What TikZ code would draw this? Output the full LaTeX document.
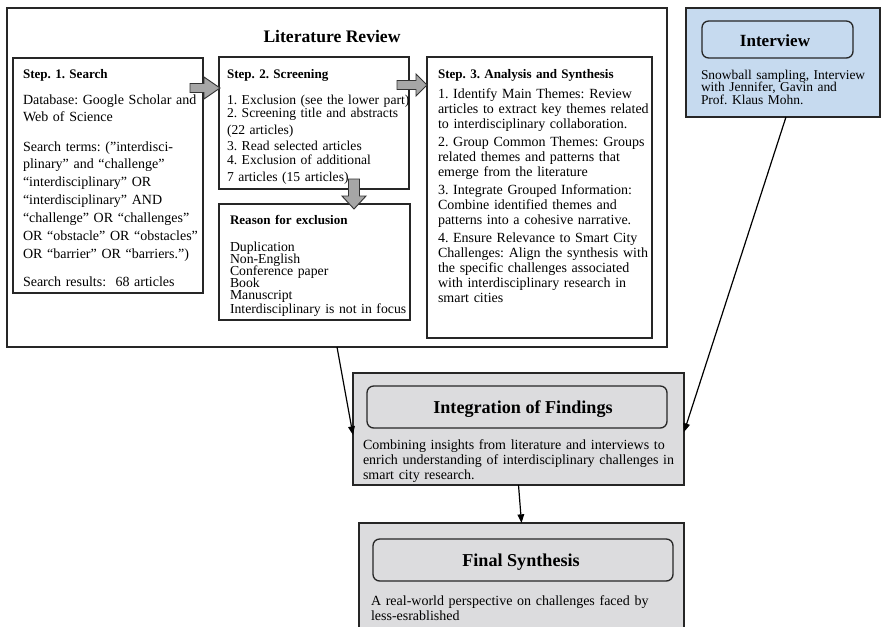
\documentclass[tikz,border=0pt]{standalone}
\usepackage{fontspec}
\setmainfont{Liberation Serif}
\usetikzlibrary{arrows.meta,calc}
\definecolor{fillgray}{HTML}{DCDCDE}
\definecolor{fillblue}{HTML}{C6DAEF}
\definecolor{arrgray}{HTML}{A6A6A6}
\frenchspacing
\tikzset{
  frame/.style={draw=black!85, line width=0.8pt, anchor=north west, inner sep=0pt, outer sep=0pt},
  rbox/.style={draw=black!85, line width=1pt, rounded corners=5pt, anchor=north west, inner sep=0pt, outer sep=0pt},
  txt/.style={anchor=base west, inner sep=0pt, outer sep=0pt, text width=300pt, align=left},
  body/.style={font=\fontsize{10.5}{11.25}\selectfont},
  head/.style={font=\fontsize{9.8}{11}\selectfont\bfseries},
  big/.style={anchor=base, inner sep=0pt, font=\fontsize{13.6}{15}\selectfont\bfseries},
  blockarrow/.style={draw=black!80, fill=arrgray, line width=0.7pt, line join=miter},
  conn/.style={draw=black, line width=0.9pt, -{Triangle[length=6.5pt,width=5pt]}},
}
\newcommand\bx[6]{\node[#6, minimum width={#4*0.75pt}, minimum height={#5*0.75pt}] (#1) at (#2,#3) {};}
\begin{document}
\frenchspacing
\begin{tikzpicture}[x=0.75pt,y=-0.75pt]
\useasboundingbox (0,0) rectangle (882,626);
\clip (0,0) rectangle (882,626);
% boxes
\bx{lit}{7}{8}{660}{339}{frame}
\bx{s1}{13}{58}{190}{235}{frame}
\bx{s2}{219}{57}{190}{132}{frame}
\bx{reason}{219}{204}{191}{116}{frame}
\bx{s3}{427}{57}{225}{281}{frame}
\bx{interview}{686}{8}{194}{109}{frame, fill=fillblue, line width=1pt}
\bx{intvT}{702}{21}{151}{37}{rbox}
\bx{integ}{353}{373}{331}{112}{frame, fill=fillgray}
\bx{integT}{367}{386}{300}{42}{rbox}
\bx{final}{359}{523}{325}{130}{frame, fill=fillgray}
\bx{finalT}{373}{539}{300}{42}{rbox}
% block arrows
\draw[blockarrow] (190,83.5) -- (204,83.5) -- (204,77) -- (220,88) -- (204,99) -- (204,92.5) -- (190,92.5) -- cycle;
\draw[blockarrow] (397,80.5) -- (416,80.5) -- (416,74) -- (427,85) -- (416,96) -- (416,89.5) -- (397,89.5) -- cycle;
\draw[blockarrow] (348.5,179) -- (348.5,196) -- (342,196) -- (354,209) -- (366,196) -- (359.5,196) -- (359.5,179) -- cycle;
% title
\node[big, font=\fontsize{13.2}{15}\selectfont\bfseries] (littitle) at (332,42.5) {Literature Review};
% step 1
\node[txt, head] (s1h) at (23,78) {Step. 1. Search};
\node[txt, font=\fontsize{10.5}{12.9}\selectfont] (s1a) at (23,104) {Database: Google Scholar and\\Web of Science};
\node[txt, font=\fontsize{10.5}{13.4}\selectfont] (s1b) at (23,151) {Search terms: (”interdisci-\\plinary” and “challenge”\\“interdisciplinary” OR\\“interdisciplinary” AND\\“challenge” OR “challenges”\\OR “obstacle” OR “obstacles”\\OR “barrier” OR “barriers.”)};
\node[txt, body] (s1c) at (23,286) {Search results:~~68 articles};
% step 2
\node[txt, head] (s2h) at (227,78) {Step. 2. Screening};
\node[txt, font=\fontsize{10.2}{11}\selectfont] (s2a) at (227,104.7) {1. Exclusion (see the lower part)};
\node[txt, font=\fontsize{10.2}{11}\selectfont] (s2b) at (227,117) {2. Screening title and abstracts};
\node[txt, font=\fontsize{10.2}{11}\selectfont] (s2c) at (227,134.7) {(22 articles)};
\node[txt, font=\fontsize{10.2}{11}\selectfont] (s2d) at (227,150) {3. Read selected articles};
\node[txt, font=\fontsize{10.2}{11}\selectfont] (s2e) at (227,164) {4. Exclusion of additional};
\node[txt, font=\fontsize{10.2}{11}\selectfont] (s2f) at (227,181.3) {7 articles (15 articles)};
% reason
\node[txt, head] (rh) at (230,224) {Reason for exclusion};
\node[txt, font=\fontsize{10.3}{9.15}\selectfont] (rl) at (230,251) {\lineskiplimit=-20pt\relax Duplication\\Non-English\\Conference paper\\Book\\Manuscript\\Interdisciplinary is not in focus};
% step 3
\node[txt, head] (s3h) at (438,78) {Step. 3. Analysis and Synthesis};
\node[txt, body] (s3a) at (438,98) {1. Identify Main Themes: Review\\articles to extract key themes related\\to interdisciplinary collaboration.};
\node[txt, body] (s3b) at (438,146) {2. Group Common Themes: Groups\\related themes and patterns that\\emerge from the literature};
\node[txt, body] (s3c) at (438,194) {3. Integrate Grouped Information:\\Combine identified themes and\\patterns into a cohesive narrative.};
\node[txt, body] (s3d) at (438,242) {4. Ensure Relevance to Smart City\\Challenges: Align the synthesis with\\the specific challenges associated\\with interdisciplinary research in\\smart cities};
% interview
\node[big, font=\fontsize{12.8}{14}\selectfont\bfseries] (intvtitle) at (775,46) {Interview};
\node[txt, font=\fontsize{10.1}{9.6}\selectfont] (intvtext) at (701,79) {\lineskiplimit=-20pt\relax Snowball sampling, Interview\\with Jennifer, Gavin and\\Prof. Klaus Mohn.};
% integration
\node[big] (integtitle) at (523,413) {Integration of Findings};
\node[txt, body] (integtext) at (363,449) {Combining insights from literature and interviews to\\enrich understanding of interdisciplinary challenges in\\smart city research.};
% final
\node[big] (finaltitle) at (521,566) {Final Synthesis};
\node[txt, body] (finaltext) at (371,605) {A real-world perspective on challenges faced by\\less-esrablished};
% connectors
\draw[conn] (lit.south) -- ($(integ.west)+(0,6)$);
\draw[conn] ($(interview.south)+(3,0)$) -- ($(integ.east)+(0,3)$);
\draw[conn] (integ.south) -- (final.north);
\end{tikzpicture}
\end{document}
